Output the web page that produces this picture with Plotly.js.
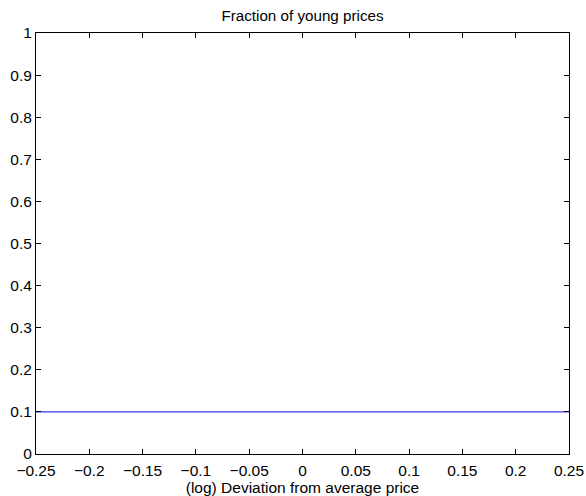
<!DOCTYPE html>
<html>
<head>
<meta charset="utf-8">
<script src="https://cdn.plot.ly/plotly-3.0.1.min.js"></script>
<style>html,body{margin:0;padding:0;background:#fff;}#chart{width:586px;height:496px;}</style>
</head>
<body>
<div id="chart"></div>
<script>
const xValues = [-0.25, 0.25];
const fractionYoung = [0.1, 0.1];
const xTicks = [-0.25, -0.2, -0.15, -0.1, -0.05, 0, 0.05, 0.1, 0.15, 0.2, 0.25];
const yTicks = [0, 0.1, 0.2, 0.3, 0.4, 0.5, 0.6, 0.7, 0.8, 0.9, 1];

const font = {family: 'Liberation Sans, Arial, Helvetica, sans-serif', size: 15.5, color: '#000'};
const trace = {
  x: xValues, y: fractionYoung, type: 'scatter', mode: 'lines',
  line: {color: '#0000ff', width: 1}, hoverinfo: 'skip'
};
const axisCommon = {
  showgrid: false, zeroline: false, showline: true, linecolor: '#000', linewidth: 1,
  mirror: 'ticks', ticks: 'inside', ticklen: 5, tickcolor: '#000', tickwidth: 1,
  tickfont: font, fixedrange: true
};
const layout = {
  width: 586, height: 496,
  margin: {l: 36, r: 17, t: 33, b: 42.44},
  paper_bgcolor: '#fff', plot_bgcolor: '#fff',
  showlegend: false,
  font: font,
  title: {text: 'Fraction of young prices', font: Object.assign({}, font, {size: 15.2}), xref: 'paper', x: 0.5, xanchor: 'center', y: 1, yref: 'container', yanchor: 'top', pad: {t: 10}},
  xaxis: Object.assign({}, axisCommon, {
    range: [-0.25, 0.25], tickvals: xTicks, ticktext: xTicks.map(v => String(v).replace('-', '\u2212')),
    ticklabelstandoff: 2,
    title: {text: '(log) Deviation from average price', font: font, standoff: 0}
  }),
  yaxis: Object.assign({}, axisCommon, {
    range: [0, 1], tickvals: yTicks, ticktext: yTicks.map(v => String(v))
  })
};
Plotly.newPlot('chart', [trace], layout, {staticPlot: true, displayModeBar: false});
</script>
</body>
</html>
